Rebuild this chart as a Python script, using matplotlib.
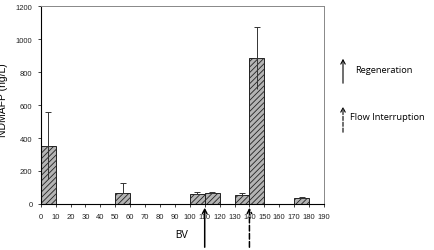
import matplotlib
matplotlib.use("Agg")
import matplotlib.pyplot as plt
from matplotlib.patches import FancyArrowPatch

bv_left = [0, 50, 100, 110, 130, 140, 170]
values = [350, 65, 60, 65, 55, 885, 35]
err_up = [205, 60, 15, 10, 10, 190, 7]
err_down = [200, 0, 0, 0, 0, 185, 0]
xticks = list(range(0, 200, 10))
yticks = list(range(0, 1400, 200))
regen_bv = 110
flow_bv = 140

plt.rcParams['font.family'] = ['Liberation Sans', 'DejaVu Sans']
plt.rcParams['hatch.color'] = '#333333'
plt.rcParams['hatch.linewidth'] = 0.6

fig = plt.figure(figsize=(4.34, 2.51), dpi=100)
ax = fig.add_axes([0.0938, 0.1833, 0.6527, 0.7887])

centers = [l + 5 for l in bv_left]
ax.bar(centers, values, width=10, color='#b4b4b4', edgecolor='#222222',
       linewidth=0.7, hatch='//////', zorder=2)
ax.errorbar(centers, values, yerr=[[0]*len(values), err_up], fmt='none',
            ecolor='#333333', elinewidth=0.7, capsize=2.5, capthick=0.7, zorder=3)
ax.errorbar(centers, values, yerr=[err_down, [0]*len(values)], fmt='none',
            ecolor='#333333', elinewidth=0.7, capsize=0, zorder=3)

ax.set_xlim(0, 190)
ax.set_ylim(0, 1200)
ax.set_xticks(xticks)
ax.set_yticks(yticks)
ax.tick_params(axis='both', labelsize=5.5, direction='out', length=2.5, width=0.6,
               colors='#222222', pad=4)
ax.tick_params(axis='y', length=2)
for s in ['top', 'right']:
    ax.spines[s].set_color('#888888')
    ax.spines[s].set_linewidth(0.7)
ax.spines['left'].set_linewidth(0.8)
ax.spines['bottom'].set_linewidth(0.8)

fig.text(182 / 434, 1 - 235 / 251, 'BV', fontsize=7, ha='center', va='center')
fig.text(3.5 / 434, 1 - 100 / 251, 'NDMAFP (ng/L)', fontsize=7.5, rotation=90,
         ha='center', va='center')

# arrows under the axis
for bv, ls in [(regen_bv, '-'), (flow_bv, '--')]:
    xd = ax.transData.transform((bv, 0))
    xf = fig.transFigure.inverted().transform(xd)[0]
    arr = FancyArrowPatch((xf, 0.0), (xf, 1 - 206 / 251), transform=fig.transFigure,
                          arrowstyle='->,head_length=3,head_width=1.6', linestyle=ls,
                          color='black', linewidth=1.1, mutation_scale=1)
    fig.patches.append(arr)

# legend arrows
lx = 343 / 434
arr1 = FancyArrowPatch((lx, 1 - 87 / 251), (lx, 1 - 57 / 251), transform=fig.transFigure,
                       arrowstyle='->,head_length=3,head_width=1.6', color='black',
                       linewidth=0.8, mutation_scale=1)
fig.patches.append(arr1)
arr2 = FancyArrowPatch((lx, 1 - 136 / 251), (lx, 1 - 105 / 251), transform=fig.transFigure,
                       arrowstyle='->,head_length=3,head_width=1.6', linestyle='--',
                       color='black', linewidth=0.8, mutation_scale=1)
fig.patches.append(arr2)
fig.text(355 / 434, 1 - 71 / 251, 'Regeneration', fontsize=6.7, ha='left', va='center',
         family=['Open Sans', 'DejaVu Sans'])
fig.text(350 / 434, 1 - 118 / 251, 'Flow Interruption', fontsize=6.7, ha='left', va='center',
         family=['Open Sans', 'DejaVu Sans'])

fig.savefig('out.png', dpi=100)
